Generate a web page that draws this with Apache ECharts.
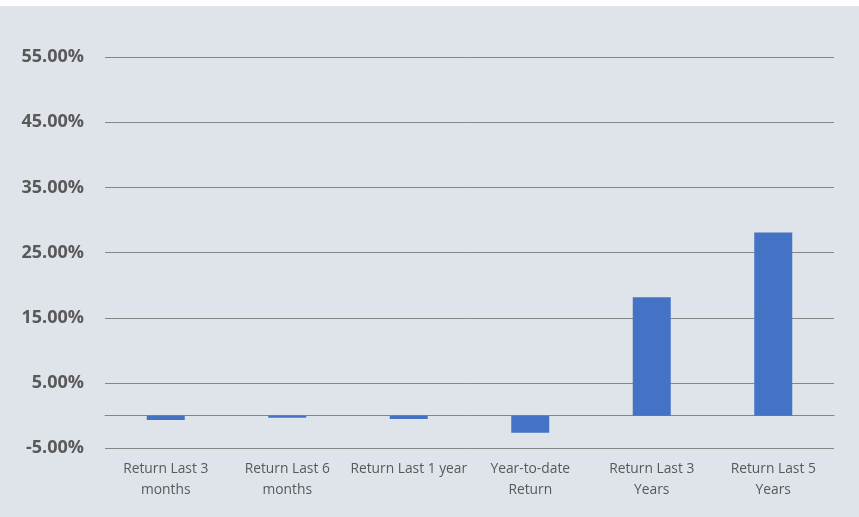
<!DOCTYPE html>
<html>
<head>
<meta charset="utf-8">
<script src="https://cdn.jsdelivr.net/npm/echarts@6/dist/echarts.min.js"></script>
<style>
html,body{margin:0;padding:0;background:#ffffff;}
#chart{width:859px;height:517px;}
</style>
</head>
<body>
<div id="chart"></div>
<script>
const categories = ["Return Last 3\nmonths", "Return Last 6\nmonths", "Return Last 1 year", "Year-to-date\nReturn", "Return Last 3\nYears", "Return Last 5\nYears"];
const returns = [-0.65, -0.3, -0.5, -2.6, 18.15, 28.1];
const yMin = -5, yMax = 55, yStep = 10;

const chart = echarts.init(document.getElementById('chart'), null, {renderer: 'canvas'});
chart.setOption({
  animation: false,
  backgroundColor: 'transparent',
  graphic: [{
    type: 'rect', z: -100, silent: true,
    shape: {x: 0, y: 6, width: 859, height: 511},
    style: {fill: '#DFE3EA'}
  }],
  grid: {left: 105, right: 25, top: 57, bottom: 68.7, containLabel: false},
  xAxis: {
    type: 'category',
    data: categories,
    axisLine: {onZero: true, lineStyle: {color: '#868686', width: 1}},
    axisTick: {show: false},
    axisLabel: {color: '#595959', fontFamily: 'Open Sans', fontSize: 13.8, lineHeight: 21, margin: 10, interval: 0}
  },
  yAxis: {
    type: 'value',
    min: yMin, max: yMax, interval: yStep,
    axisLine: {show: false},
    axisTick: {show: false},
    splitLine: {lineStyle: {color: '#868686', width: 1}},
    axisLabel: {
      color: '#595959', fontFamily: 'Open Sans', fontWeight: 'bold', fontSize: 18, margin: 21,
      formatter: v => v.toFixed(2) + '%'
    }
  },
  series: [{
    type: 'bar',
    data: returns,
    barWidth: 38,
    itemStyle: {color: '#4472C4'}
  }]
});
</script>
</body>
</html>
